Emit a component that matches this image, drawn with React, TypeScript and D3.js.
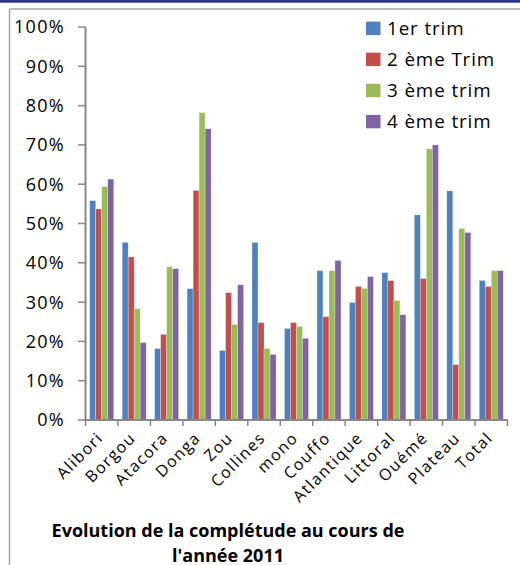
import React from "react";
import * as d3 from "d3";

const categories = ["Alibori", "Borgou", "Atacora", "Donga", "Zou", "Collines", "mono", "Couffo", "Atlantique", "Littoral", "Ouémé", "Plateau", "Total"];
const seriesNames = ["1er trim", "2 ème Trim", "3 ème trim", "4 ème trim"];
const seriesColors = ["#4f81bd", "#c0504d", "#9bbb59", "#8064a2"];
const trim1 = [0.558, 0.452, 0.182, 0.334, 0.177, 0.452, 0.233, 0.380, 0.299, 0.375, 0.522, 0.583, 0.355];
const trim2 = [0.537, 0.415, 0.218, 0.584, 0.324, 0.248, 0.248, 0.263, 0.340, 0.355, 0.360, 0.141, 0.340];
const trim3 = [0.594, 0.283, 0.390, 0.782, 0.243, 0.182, 0.238, 0.380, 0.335, 0.304, 0.690, 0.487, 0.380];
const trim4 = [0.613, 0.197, 0.385, 0.741, 0.344, 0.167, 0.208, 0.406, 0.365, 0.268, 0.700, 0.477, 0.380];
const seriesValues = [trim1, trim2, trim3, trim4];
const yTicks = [0, 0.1, 0.2, 0.3, 0.4, 0.5, 0.6, 0.7, 0.8, 0.9, 1.0];
const titleLines = ["Evolution de la complétude au cours de", "l'année 2011"];

const W = 520;
const H = 565;
const FONT = "'Open Sans', sans-serif";

export default function App() {
  const x0 = d3.scaleBand<string>().domain(categories).range([85.5, 507.5]).paddingInner(0).paddingOuter(0);
  const x1 = d3.scaleBand<string>().domain(seriesNames).range([0, x0.bandwidth()]).paddingInner(0).paddingOuter(0.7);
  const y = d3.scaleLinear().domain([0, 1]).range([420, 27]);
  const axisColor = "#878787";
  const boundaries = d3.range(categories.length + 1).map((i) => 85.5 + i * x0.step());

  return (
    <svg width={W} height={H} style={{ position: "absolute", left: 0, top: 0, background: "#fff" }}>
      <rect x={0} y={0} width={W} height={H} fill="#fff" />
      <rect x={0} y={0} width={W} height={2.7} fill="#2e3188" />
      <line x1={9.5} y1={9} x2={W} y2={9} stroke="#a6a6a6" strokeWidth={1.5} />
      <line x1={9.5} y1={9} x2={9.5} y2={H} stroke="#a6a6a6" strokeWidth={1.5} />

      {/* bars */}
      {categories.map((c, ci) => (
        <g key={c} transform={`translate(${x0(c)},0)`}>
          {seriesNames.map((s, si) => {
            const v = seriesValues[si][ci];
            return (
              <rect
                key={s}
                x={x1(s)}
                y={y(v)}
                width={x1.bandwidth()}
                height={y(0) - y(v)}
                fill={seriesColors[si]}
                stroke="#ffffff"
                strokeOpacity={0.45}
                strokeWidth={0.6}
              />
            );
          })}
        </g>
      ))}

      {/* y axis */}
      <line x1={85.5} y1={y(1)} x2={85.5} y2={y(0)} stroke={axisColor} strokeWidth={2} />
      {yTicks.map((t) => (
        <g key={t}>
          <line x1={78} y1={y(t)} x2={85.5} y2={y(t)} stroke={axisColor} strokeWidth={1.5} />
          <text x={65} y={y(t)} dy="0.36em" textAnchor="end" fontFamily={FONT} fontSize={18} letterSpacing={1.3} fill="#000">
            {d3.format(".0%")(t)}
          </text>
        </g>
      ))}

      {/* x axis */}
      <line x1={85.5} y1={y(0)} x2={507.5} y2={y(0)} stroke={axisColor} strokeWidth={2} />
      {boundaries.map((b, i) => (
        <line key={i} x1={b} y1={y(0)} x2={b} y2={426} stroke={axisColor} strokeWidth={1.5} />
      ))}
      {categories.map((c) => {
        const cx = (x0(c) as number) + x0.bandwidth() / 2;
        return (
          <text
            key={c}
            transform={`translate(${cx - 1.5},${435}) rotate(-45)`}
            textAnchor="end"
            dy="0.35em"
            fontFamily={FONT}
            fontSize={16}
            letterSpacing={1.4}
            fill="#000"
          >
            {c}
          </text>
        );
      })}

      {/* legend */}
      {seriesNames.map((s, i) => (
        <g key={s} transform={`translate(366,${28.3 + i * 31.1})`}>
          <rect x={0} y={-6.7} width={14.5} height={13.4} fill={seriesColors[i]} />
          <text x={21} y={0} dy="0.36em" fontFamily={FONT} fontSize={18.8} letterSpacing={0.9} fill="#000">
            {s}
          </text>
        </g>
      ))}

      {/* title */}
      {titleLines.map((l, i) => (
        <text key={i} x={228} y={537 + i * 24.5} textAnchor="middle" fontFamily={FONT} fontWeight="bold" fontSize={18} fill="#000">
          {l}
        </text>
      ))}
    </svg>
  );
}
